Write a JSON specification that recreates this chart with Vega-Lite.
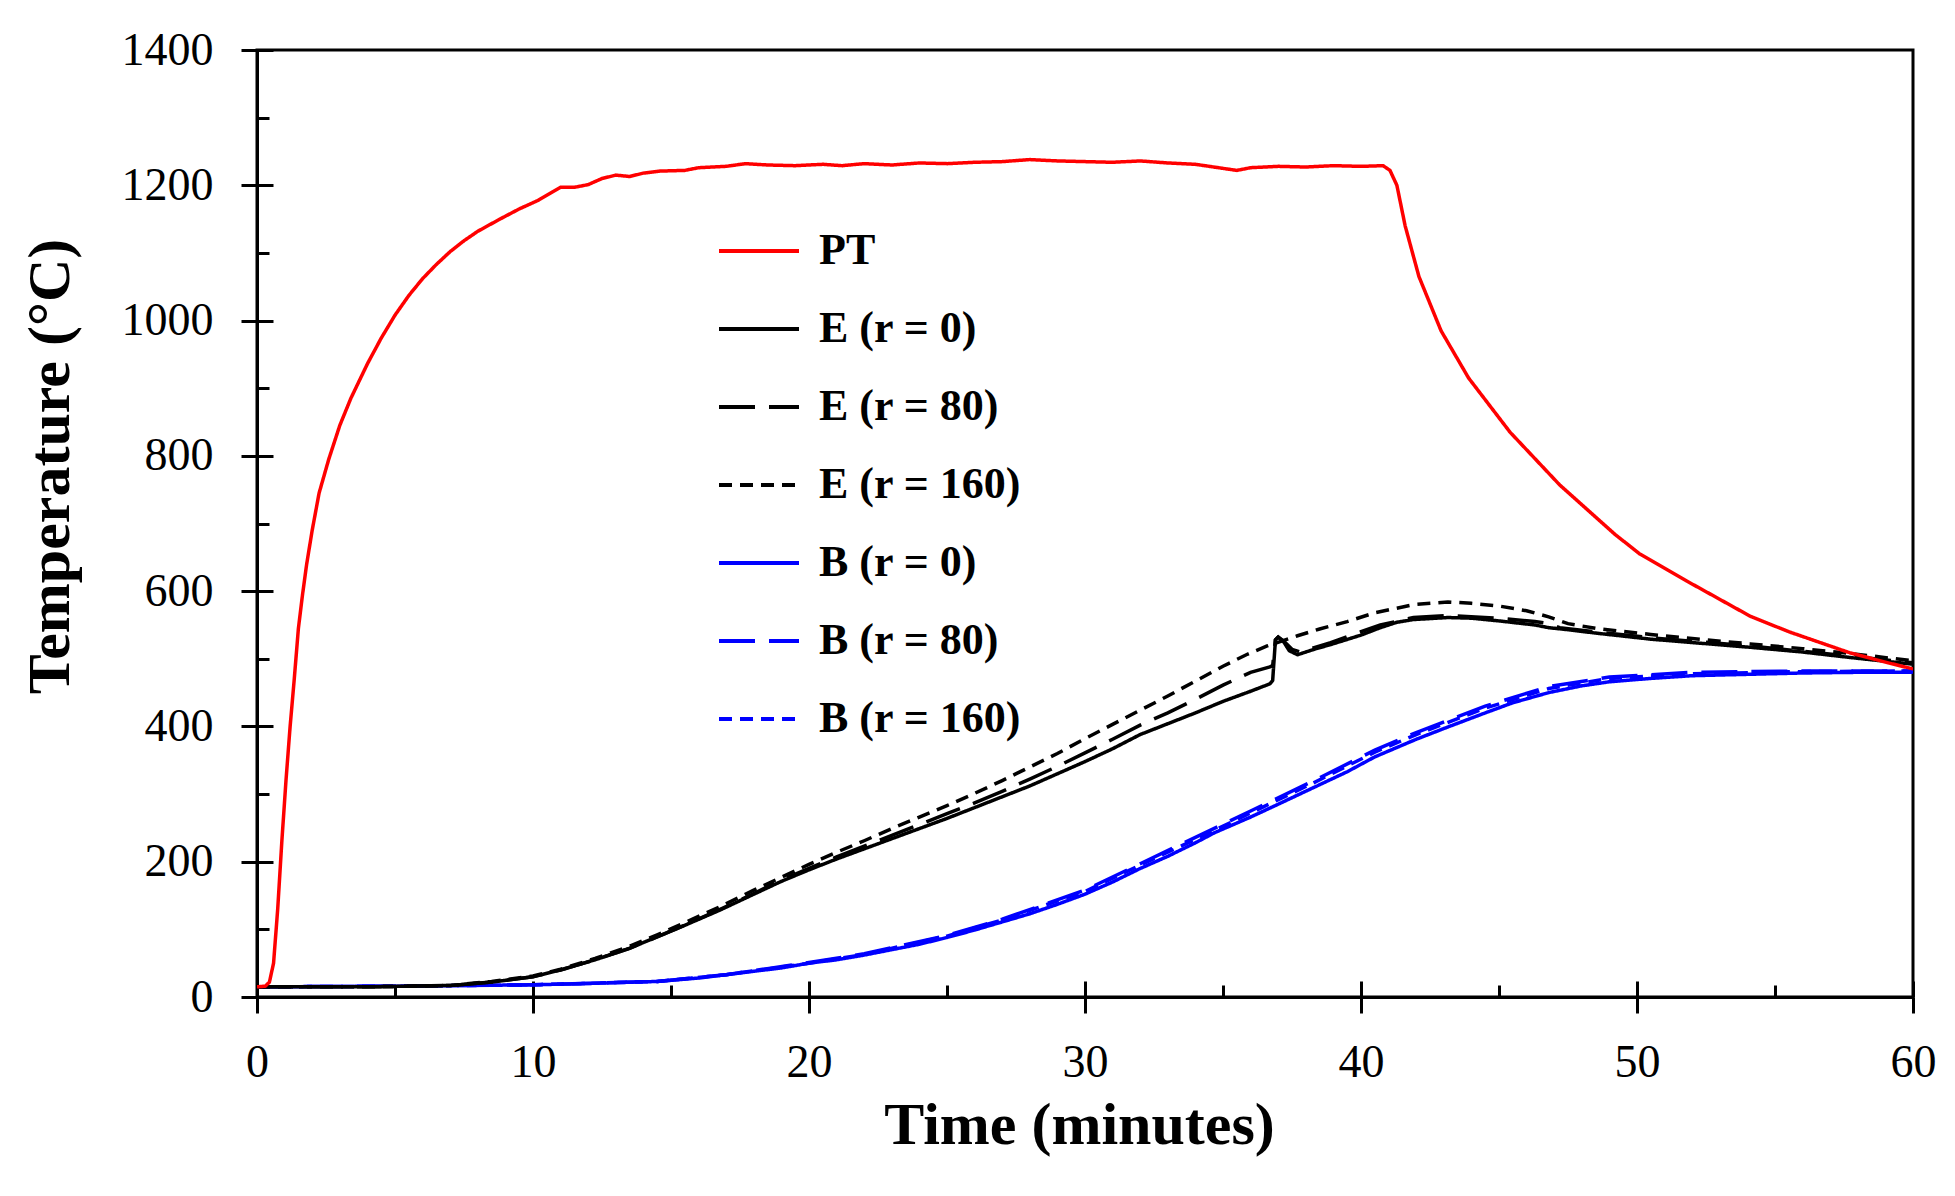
{
  "$schema": "https://vega.github.io/schema/vega-lite/v6.json",
  "width": 1656,
  "height": 947,
  "autosize": "none",
  "padding": {"left": 257, "top": 50, "right": 42, "bottom": 199},
  "background": "white",
  "datasets": {
    "curves": [
      {"s": "B (r = 0)", "t": 0, "T": 15}, {"s": "B (r = 0)", "t": 5, "T": 16}, {"s": "B (r = 0)", "t": 10, "T": 18}, {"s": "B (r = 0)", "t": 12, "T": 20},
      {"s": "B (r = 0)", "t": 14.5, "T": 23}, {"s": "B (r = 0)", "t": 16, "T": 28}, {"s": "B (r = 0)", "t": 17, "T": 33}, {"s": "B (r = 0)", "t": 18, "T": 38},
      {"s": "B (r = 0)", "t": 19, "T": 43}, {"s": "B (r = 0)", "t": 20, "T": 50}, {"s": "B (r = 0)", "t": 21, "T": 55}, {"s": "B (r = 0)", "t": 22, "T": 62},
      {"s": "B (r = 0)", "t": 23, "T": 70}, {"s": "B (r = 0)", "t": 24, "T": 78}, {"s": "B (r = 0)", "t": 25, "T": 88}, {"s": "B (r = 0)", "t": 26, "T": 99},
      {"s": "B (r = 0)", "t": 27, "T": 111}, {"s": "B (r = 0)", "t": 28, "T": 123}, {"s": "B (r = 0)", "t": 29, "T": 137}, {"s": "B (r = 0)", "t": 30, "T": 152},
      {"s": "B (r = 0)", "t": 31, "T": 170}, {"s": "B (r = 0)", "t": 32, "T": 190}, {"s": "B (r = 0)", "t": 33, "T": 208}, {"s": "B (r = 0)", "t": 34, "T": 228},
      {"s": "B (r = 0)", "t": 34.7, "T": 243}, {"s": "B (r = 0)", "t": 36, "T": 266}, {"s": "B (r = 0)", "t": 37, "T": 285}, {"s": "B (r = 0)", "t": 38.3, "T": 310},
      {"s": "B (r = 0)", "t": 39.5, "T": 333}, {"s": "B (r = 0)", "t": 40.5, "T": 355}, {"s": "B (r = 0)", "t": 42, "T": 381}, {"s": "B (r = 0)", "t": 43.2, "T": 400},
      {"s": "B (r = 0)", "t": 44.5, "T": 420}, {"s": "B (r = 0)", "t": 45.5, "T": 435}, {"s": "B (r = 0)", "t": 46.8, "T": 450}, {"s": "B (r = 0)", "t": 48, "T": 460},
      {"s": "B (r = 0)", "t": 49, "T": 466}, {"s": "B (r = 0)", "t": 50.5, "T": 471}, {"s": "B (r = 0)", "t": 52, "T": 475}, {"s": "B (r = 0)", "t": 54, "T": 477},
      {"s": "B (r = 0)", "t": 56, "T": 479}, {"s": "B (r = 0)", "t": 58, "T": 480}, {"s": "B (r = 0)", "t": 60, "T": 480},

      {"s": "B (r = 80)", "t": 0, "T": 15}, {"s": "B (r = 80)", "t": 5, "T": 16}, {"s": "B (r = 80)", "t": 10, "T": 18}, {"s": "B (r = 80)", "t": 14.5, "T": 23},
      {"s": "B (r = 80)", "t": 17, "T": 33}, {"s": "B (r = 80)", "t": 20, "T": 51}, {"s": "B (r = 80)", "t": 22, "T": 64}, {"s": "B (r = 80)", "t": 25, "T": 91},
      {"s": "B (r = 80)", "t": 27, "T": 115}, {"s": "B (r = 80)", "t": 30, "T": 158}, {"s": "B (r = 80)", "t": 32, "T": 197}, {"s": "B (r = 80)", "t": 34, "T": 236},
      {"s": "B (r = 80)", "t": 36, "T": 275}, {"s": "B (r = 80)", "t": 38.3, "T": 320}, {"s": "B (r = 80)", "t": 40.5, "T": 365}, {"s": "B (r = 80)", "t": 42, "T": 391},
      {"s": "B (r = 80)", "t": 44.5, "T": 430}, {"s": "B (r = 80)", "t": 46.8, "T": 459}, {"s": "B (r = 80)", "t": 49, "T": 473}, {"s": "B (r = 80)", "t": 52, "T": 480},
      {"s": "B (r = 80)", "t": 56, "T": 482}, {"s": "B (r = 80)", "t": 60, "T": 482},

      {"s": "B (r = 160)", "t": 0, "T": 15}, {"s": "B (r = 160)", "t": 5, "T": 16}, {"s": "B (r = 160)", "t": 10, "T": 18}, {"s": "B (r = 160)", "t": 14.5, "T": 23},
      {"s": "B (r = 160)", "t": 17, "T": 33}, {"s": "B (r = 160)", "t": 20, "T": 50}, {"s": "B (r = 160)", "t": 22, "T": 63}, {"s": "B (r = 160)", "t": 25, "T": 90},
      {"s": "B (r = 160)", "t": 27, "T": 114}, {"s": "B (r = 160)", "t": 30, "T": 156}, {"s": "B (r = 160)", "t": 32, "T": 195}, {"s": "B (r = 160)", "t": 34, "T": 233},
      {"s": "B (r = 160)", "t": 36, "T": 272}, {"s": "B (r = 160)", "t": 38.3, "T": 317}, {"s": "B (r = 160)", "t": 40.5, "T": 362}, {"s": "B (r = 160)", "t": 42, "T": 388},
      {"s": "B (r = 160)", "t": 44.5, "T": 427}, {"s": "B (r = 160)", "t": 46.8, "T": 456}, {"s": "B (r = 160)", "t": 49, "T": 471}, {"s": "B (r = 160)", "t": 52, "T": 478},
      {"s": "B (r = 160)", "t": 56, "T": 481}, {"s": "B (r = 160)", "t": 60, "T": 482},

      {"s": "E (r = 0)", "t": 0, "T": 15}, {"s": "E (r = 0)", "t": 4, "T": 15}, {"s": "E (r = 0)", "t": 7, "T": 17}, {"s": "E (r = 0)", "t": 8.5, "T": 22},
      {"s": "E (r = 0)", "t": 10, "T": 30}, {"s": "E (r = 0)", "t": 11, "T": 40}, {"s": "E (r = 0)", "t": 12.25, "T": 55}, {"s": "E (r = 0)", "t": 13.5, "T": 72},
      {"s": "E (r = 0)", "t": 14.5, "T": 89}, {"s": "E (r = 0)", "t": 15.5, "T": 106}, {"s": "E (r = 0)", "t": 16.8, "T": 129}, {"s": "E (r = 0)", "t": 18, "T": 152},
      {"s": "E (r = 0)", "t": 19, "T": 171}, {"s": "E (r = 0)", "t": 20, "T": 188}, {"s": "E (r = 0)", "t": 21, "T": 204}, {"s": "E (r = 0)", "t": 22, "T": 219},
      {"s": "E (r = 0)", "t": 23, "T": 234}, {"s": "E (r = 0)", "t": 24, "T": 249}, {"s": "E (r = 0)", "t": 25, "T": 264}, {"s": "E (r = 0)", "t": 26, "T": 280},
      {"s": "E (r = 0)", "t": 27, "T": 296}, {"s": "E (r = 0)", "t": 28, "T": 312}, {"s": "E (r = 0)", "t": 29, "T": 330}, {"s": "E (r = 0)", "t": 30, "T": 348},
      {"s": "E (r = 0)", "t": 31, "T": 367}, {"s": "E (r = 0)", "t": 32, "T": 388}, {"s": "E (r = 0)", "t": 33, "T": 404}, {"s": "E (r = 0)", "t": 34, "T": 420},
      {"s": "E (r = 0)", "t": 35, "T": 437}, {"s": "E (r = 0)", "t": 36, "T": 452}, {"s": "E (r = 0)", "t": 36.7, "T": 463}, {"s": "E (r = 0)", "t": 36.8, "T": 468},
      {"s": "E (r = 0)", "t": 36.9, "T": 528}, {"s": "E (r = 0)", "t": 37, "T": 532}, {"s": "E (r = 0)", "t": 37.2, "T": 525}, {"s": "E (r = 0)", "t": 37.4, "T": 512},
      {"s": "E (r = 0)", "t": 37.7, "T": 506}, {"s": "E (r = 0)", "t": 38.3, "T": 514}, {"s": "E (r = 0)", "t": 38.9, "T": 521}, {"s": "E (r = 0)", "t": 40, "T": 535},
      {"s": "E (r = 0)", "t": 40.7, "T": 546}, {"s": "E (r = 0)", "t": 41.3, "T": 554}, {"s": "E (r = 0)", "t": 41.9, "T": 558}, {"s": "E (r = 0)", "t": 43.15, "T": 561},
      {"s": "E (r = 0)", "t": 44, "T": 560}, {"s": "E (r = 0)", "t": 45, "T": 556}, {"s": "E (r = 0)", "t": 46.3, "T": 550}, {"s": "E (r = 0)", "t": 46.8, "T": 546},
      {"s": "E (r = 0)", "t": 47.5, "T": 543}, {"s": "E (r = 0)", "t": 48.5, "T": 538}, {"s": "E (r = 0)", "t": 50.5, "T": 529}, {"s": "E (r = 0)", "t": 52, "T": 524},
      {"s": "E (r = 0)", "t": 54.1, "T": 517}, {"s": "E (r = 0)", "t": 56, "T": 510}, {"s": "E (r = 0)", "t": 57.7, "T": 502}, {"s": "E (r = 0)", "t": 60, "T": 492},

      {"s": "E (r = 80)", "t": 0, "T": 15}, {"s": "E (r = 80)", "t": 4, "T": 15}, {"s": "E (r = 80)", "t": 7, "T": 17}, {"s": "E (r = 80)", "t": 8.5, "T": 22},
      {"s": "E (r = 80)", "t": 10, "T": 30}, {"s": "E (r = 80)", "t": 11, "T": 40}, {"s": "E (r = 80)", "t": 12.25, "T": 55}, {"s": "E (r = 80)", "t": 13.5, "T": 72},
      {"s": "E (r = 80)", "t": 14.5, "T": 89}, {"s": "E (r = 80)", "t": 15.5, "T": 106}, {"s": "E (r = 80)", "t": 16.8, "T": 130}, {"s": "E (r = 80)", "t": 18, "T": 153},
      {"s": "E (r = 80)", "t": 19, "T": 173}, {"s": "E (r = 80)", "t": 20, "T": 190}, {"s": "E (r = 80)", "t": 21, "T": 207}, {"s": "E (r = 80)", "t": 22, "T": 223},
      {"s": "E (r = 80)", "t": 23, "T": 239}, {"s": "E (r = 80)", "t": 24, "T": 255}, {"s": "E (r = 80)", "t": 25, "T": 271}, {"s": "E (r = 80)", "t": 26, "T": 287},
      {"s": "E (r = 80)", "t": 27, "T": 304}, {"s": "E (r = 80)", "t": 28, "T": 322}, {"s": "E (r = 80)", "t": 29, "T": 341}, {"s": "E (r = 80)", "t": 30, "T": 361},
      {"s": "E (r = 80)", "t": 31, "T": 381}, {"s": "E (r = 80)", "t": 32, "T": 402}, {"s": "E (r = 80)", "t": 33, "T": 420}, {"s": "E (r = 80)", "t": 34, "T": 440},
      {"s": "E (r = 80)", "t": 35, "T": 461}, {"s": "E (r = 80)", "t": 36, "T": 480}, {"s": "E (r = 80)", "t": 36.7, "T": 488}, {"s": "E (r = 80)", "t": 36.8, "T": 490},
      {"s": "E (r = 80)", "t": 36.9, "T": 528}, {"s": "E (r = 80)", "t": 37, "T": 532}, {"s": "E (r = 80)", "t": 37.2, "T": 526}, {"s": "E (r = 80)", "t": 37.5, "T": 514},
      {"s": "E (r = 80)", "t": 37.8, "T": 510}, {"s": "E (r = 80)", "t": 38.9, "T": 524}, {"s": "E (r = 80)", "t": 40, "T": 540}, {"s": "E (r = 80)", "t": 40.7, "T": 550},
      {"s": "E (r = 80)", "t": 41.9, "T": 561}, {"s": "E (r = 80)", "t": 43.15, "T": 564}, {"s": "E (r = 80)", "t": 45, "T": 560}, {"s": "E (r = 80)", "t": 46.3, "T": 555},
      {"s": "E (r = 80)", "t": 46.8, "T": 552}, {"s": "E (r = 80)", "t": 47.2, "T": 546}, {"s": "E (r = 80)", "t": 48.5, "T": 540}, {"s": "E (r = 80)", "t": 50.5, "T": 531},
      {"s": "E (r = 80)", "t": 54.1, "T": 519}, {"s": "E (r = 80)", "t": 57.7, "T": 504}, {"s": "E (r = 80)", "t": 60, "T": 494},

      {"s": "E (r = 160)", "t": 0, "T": 15}, {"s": "E (r = 160)", "t": 4, "T": 15}, {"s": "E (r = 160)", "t": 7, "T": 17}, {"s": "E (r = 160)", "t": 8.5, "T": 23},
      {"s": "E (r = 160)", "t": 10, "T": 31}, {"s": "E (r = 160)", "t": 11, "T": 41}, {"s": "E (r = 160)", "t": 12.25, "T": 57}, {"s": "E (r = 160)", "t": 13.5, "T": 75},
      {"s": "E (r = 160)", "t": 14.5, "T": 92}, {"s": "E (r = 160)", "t": 15.5, "T": 110}, {"s": "E (r = 160)", "t": 16.8, "T": 134}, {"s": "E (r = 160)", "t": 18, "T": 158},
      {"s": "E (r = 160)", "t": 19, "T": 177}, {"s": "E (r = 160)", "t": 20, "T": 196}, {"s": "E (r = 160)", "t": 21, "T": 214}, {"s": "E (r = 160)", "t": 22, "T": 231},
      {"s": "E (r = 160)", "t": 23, "T": 249}, {"s": "E (r = 160)", "t": 24, "T": 266}, {"s": "E (r = 160)", "t": 25, "T": 283}, {"s": "E (r = 160)", "t": 26, "T": 301},
      {"s": "E (r = 160)", "t": 27, "T": 320}, {"s": "E (r = 160)", "t": 28, "T": 340}, {"s": "E (r = 160)", "t": 29, "T": 360}, {"s": "E (r = 160)", "t": 30, "T": 382},
      {"s": "E (r = 160)", "t": 31, "T": 403}, {"s": "E (r = 160)", "t": 32, "T": 424}, {"s": "E (r = 160)", "t": 33, "T": 445}, {"s": "E (r = 160)", "t": 34, "T": 467},
      {"s": "E (r = 160)", "t": 35, "T": 489}, {"s": "E (r = 160)", "t": 35.9, "T": 507}, {"s": "E (r = 160)", "t": 36.6, "T": 519}, {"s": "E (r = 160)", "t": 37.7, "T": 534},
      {"s": "E (r = 160)", "t": 38.5, "T": 544}, {"s": "E (r = 160)", "t": 39.5, "T": 555}, {"s": "E (r = 160)", "t": 40.5, "T": 568}, {"s": "E (r = 160)", "t": 41.9, "T": 580},
      {"s": "E (r = 160)", "t": 43.15, "T": 584}, {"s": "E (r = 160)", "t": 44, "T": 582}, {"s": "E (r = 160)", "t": 45, "T": 578}, {"s": "E (r = 160)", "t": 46, "T": 571},
      {"s": "E (r = 160)", "t": 46.8, "T": 562}, {"s": "E (r = 160)", "t": 47.5, "T": 552}, {"s": "E (r = 160)", "t": 48.5, "T": 545}, {"s": "E (r = 160)", "t": 50.5, "T": 536},
      {"s": "E (r = 160)", "t": 52, "T": 530}, {"s": "E (r = 160)", "t": 54.1, "T": 522}, {"s": "E (r = 160)", "t": 56, "T": 515}, {"s": "E (r = 160)", "t": 57.7, "T": 508},
      {"s": "E (r = 160)", "t": 60, "T": 497},

      {"s": "PT", "t": 0, "T": 15}, {"s": "PT", "t": 0.3, "T": 16}, {"s": "PT", "t": 0.45, "T": 22}, {"s": "PT", "t": 0.6, "T": 50},
      {"s": "PT", "t": 0.75, "T": 130}, {"s": "PT", "t": 0.9, "T": 230}, {"s": "PT", "t": 1.05, "T": 320}, {"s": "PT", "t": 1.2, "T": 400},
      {"s": "PT", "t": 1.35, "T": 470}, {"s": "PT", "t": 1.5, "T": 545}, {"s": "PT", "t": 1.65, "T": 595}, {"s": "PT", "t": 1.8, "T": 640},
      {"s": "PT", "t": 2, "T": 690}, {"s": "PT", "t": 2.25, "T": 745}, {"s": "PT", "t": 2.6, "T": 795}, {"s": "PT", "t": 3, "T": 845},
      {"s": "PT", "t": 3.4, "T": 885}, {"s": "PT", "t": 4, "T": 936}, {"s": "PT", "t": 4.5, "T": 974}, {"s": "PT", "t": 5, "T": 1008},
      {"s": "PT", "t": 5.5, "T": 1037}, {"s": "PT", "t": 6, "T": 1062}, {"s": "PT", "t": 6.5, "T": 1083}, {"s": "PT", "t": 7, "T": 1102},
      {"s": "PT", "t": 7.5, "T": 1118}, {"s": "PT", "t": 8, "T": 1132}, {"s": "PT", "t": 8.8, "T": 1150}, {"s": "PT", "t": 9.5, "T": 1165},
      {"s": "PT", "t": 10.2, "T": 1178}, {"s": "PT", "t": 10.7, "T": 1190}, {"s": "PT", "t": 11, "T": 1197}, {"s": "PT", "t": 11.5, "T": 1197},
      {"s": "PT", "t": 12, "T": 1201}, {"s": "PT", "t": 12.5, "T": 1210}, {"s": "PT", "t": 13, "T": 1215}, {"s": "PT", "t": 13.5, "T": 1213},
      {"s": "PT", "t": 14, "T": 1218}, {"s": "PT", "t": 14.6, "T": 1221}, {"s": "PT", "t": 15.5, "T": 1222}, {"s": "PT", "t": 16, "T": 1226},
      {"s": "PT", "t": 17, "T": 1228}, {"s": "PT", "t": 17.7, "T": 1232}, {"s": "PT", "t": 18.5, "T": 1230}, {"s": "PT", "t": 19.5, "T": 1229},
      {"s": "PT", "t": 20.5, "T": 1231}, {"s": "PT", "t": 21.2, "T": 1229}, {"s": "PT", "t": 22, "T": 1232}, {"s": "PT", "t": 23, "T": 1230},
      {"s": "PT", "t": 24, "T": 1233}, {"s": "PT", "t": 25, "T": 1232}, {"s": "PT", "t": 26, "T": 1234}, {"s": "PT", "t": 27, "T": 1235},
      {"s": "PT", "t": 28, "T": 1238}, {"s": "PT", "t": 29, "T": 1236}, {"s": "PT", "t": 30, "T": 1235}, {"s": "PT", "t": 31, "T": 1234},
      {"s": "PT", "t": 32, "T": 1236}, {"s": "PT", "t": 33, "T": 1233}, {"s": "PT", "t": 34, "T": 1231}, {"s": "PT", "t": 35, "T": 1225},
      {"s": "PT", "t": 35.5, "T": 1222}, {"s": "PT", "t": 36, "T": 1226}, {"s": "PT", "t": 37, "T": 1228}, {"s": "PT", "t": 38, "T": 1227},
      {"s": "PT", "t": 39, "T": 1229}, {"s": "PT", "t": 40, "T": 1228}, {"s": "PT", "t": 40.8, "T": 1229}, {"s": "PT", "t": 41.05, "T": 1222},
      {"s": "PT", "t": 41.3, "T": 1200}, {"s": "PT", "t": 41.6, "T": 1140}, {"s": "PT", "t": 42.1, "T": 1065}, {"s": "PT", "t": 42.9, "T": 985},
      {"s": "PT", "t": 43.9, "T": 915}, {"s": "PT", "t": 45.4, "T": 835}, {"s": "PT", "t": 47.2, "T": 757}, {"s": "PT", "t": 49.2, "T": 684},
      {"s": "PT", "t": 50.1, "T": 655}, {"s": "PT", "t": 51.8, "T": 615}, {"s": "PT", "t": 54.1, "T": 563}, {"s": "PT", "t": 55.5, "T": 540},
      {"s": "PT", "t": 57.7, "T": 509}, {"s": "PT", "t": 59.1, "T": 494}, {"s": "PT", "t": 60, "T": 485}
    ]
  },
  "data": {"name": "curves"},
  "layer": [
    {
      "mark": {"type": "line", "strokeWidth": 3.5, "clip": true},
      "encoding": {
        "x": {
          "field": "t", "type": "quantitative",
          "scale": {"domain": [0, 60], "nice": false, "zero": false},
          "axis": {
            "orient": "bottom", "values": [0, 10, 20, 30, 40, 50, 60], "tickSize": 16, "format": "d", "labelFlush": false,
            "labelPadding": 27, "title": "Time (minutes)",
            "titleX": 822, "titleY": 128, "titleAlign": "center", "titleBaseline": "middle"
          }
        },
        "y": {
          "field": "T", "type": "quantitative",
          "scale": {"domain": [0, 1400], "nice": false},
          "axis": {
            "orient": "left", "values": [0, 200, 400, 600, 800, 1000, 1200, 1400], "tickSize": 16, "format": "d", "labelFlush": false,
            "labelPadding": 28, "title": "Temperature (°C)",
            "titleX": -207, "titleY": 416, "titleAngle": -90, "titleAlign": "center", "titleBaseline": "middle"
          }
        },
        "color": {
          "field": "s", "type": "nominal",
          "scale": {
            "domain": ["PT", "E (r = 0)", "E (r = 80)", "E (r = 160)", "B (r = 0)", "B (r = 80)", "B (r = 160)"],
            "range": ["#ff0000", "#000000", "#000000", "#000000", "#0000ff", "#0000ff", "#0000ff"]
          },
          "legend": {
            "title": null, "orient": "none", "legendX": 460, "legendY": 159,
            "symbolType": "stroke", "symbolSize": 6400, "symbolStrokeWidth": 4,
            "labelFontSize": 44, "labelFont": "Liberation Serif", "labelFontWeight": "bold", "labelColor": "black",
            "labelOffset": 18, "rowPadding": 14, "padding": 0, "labelLimit": 400
          }
        },
        "strokeDash": {
          "field": "s", "type": "nominal",
          "scale": {
            "domain": ["PT", "E (r = 0)", "E (r = 80)", "E (r = 160)", "B (r = 0)", "B (r = 80)", "B (r = 160)"],
            "range": [[1, 0], [1, 0], [36, 14], [13, 8], [1, 0], [36, 14], [13, 8]]
          },
          "legend": {
            "title": null, "orient": "none", "legendX": 460, "legendY": 159,
            "symbolType": "stroke", "symbolSize": 6400, "symbolStrokeWidth": 4,
            "labelFontSize": 44, "labelFont": "Liberation Serif", "labelFontWeight": "bold", "labelColor": "black",
            "labelOffset": 18, "rowPadding": 14, "padding": 0, "labelLimit": 400
          }
        }
      }
    },
    {
      "mark": {"type": "line", "opacity": 0},
      "encoding": {
        "x": {
          "field": "t", "type": "quantitative",
          "axis": {"orient": "bottom", "values": [0, 10, 20, 30, 40, 50, 60], "tickSize": -16, "labels": false, "domain": false, "title": null}
        },
        "y": {
          "field": "T", "type": "quantitative",
          "axis": {"orient": "left", "values": [0, 200, 400, 600, 800, 1000, 1200, 1400], "tickSize": -16, "labels": false, "domain": false, "title": null}
        }
      }
    },
    {
      "mark": {"type": "line", "opacity": 0},
      "encoding": {
        "x": {
          "field": "t", "type": "quantitative",
          "axis": {"orient": "bottom", "values": [5, 15, 25, 35, 45, 55], "tickSize": -12, "labels": false, "domain": false, "title": null}
        },
        "y": {
          "field": "T", "type": "quantitative",
          "axis": {"orient": "left", "values": [100, 300, 500, 700, 900, 1100, 1300], "tickSize": -12, "labels": false, "domain": false, "title": null}
        }
      }
    }
  ],
  "resolve": {"axis": {"x": "independent", "y": "independent"}},
  "config": {
    "view": {"stroke": "black", "strokeWidth": 3},
    "axis": {
      "grid": false, "domainColor": "black", "domainWidth": 3, "tickColor": "black", "tickWidth": 3,
      "labelColor": "black", "labelFont": "Liberation Serif", "labelFontSize": 46,
      "titleColor": "black", "titleFont": "Liberation Serif", "titleFontSize": 60, "titleFontWeight": "bold"
    }
  }
}
